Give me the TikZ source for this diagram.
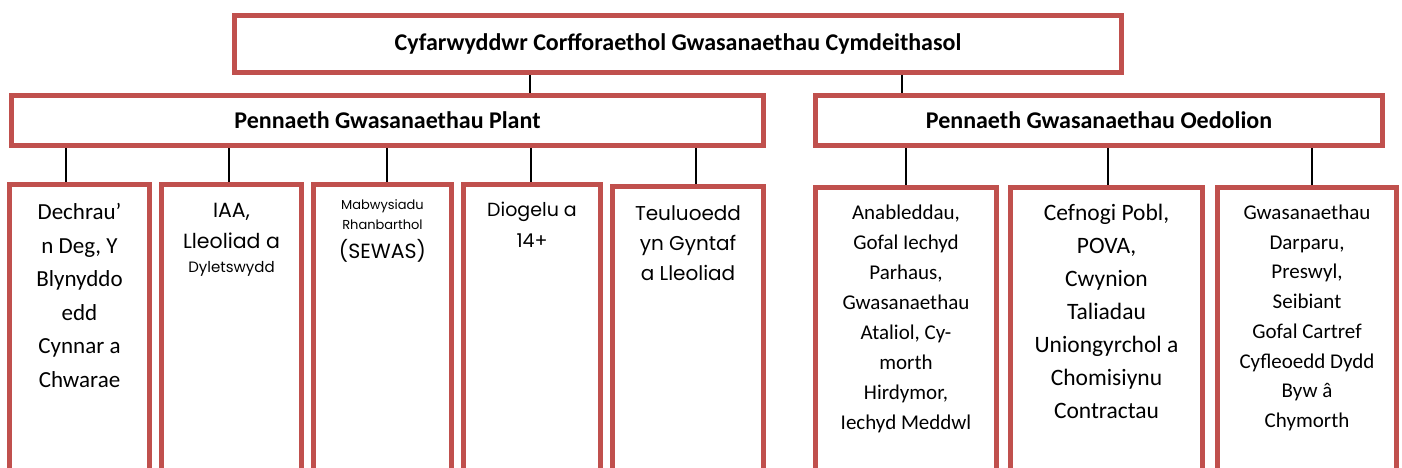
\documentclass[tikz,border=0pt]{standalone}
\usepackage{fontspec}
\setmainfont{Carlito}
\newfontfamily\gothic{Poppins}
\definecolor{boxred}{RGB}{192,80,77}
\newcommand{\fs}[2]{\fontsize{#1}{#2}\selectfont}

\begin{document}
\begin{tikzpicture}[x=1pt,y=-1pt,
	head/.style={draw=boxred, line width=5pt, fill=white, font=\bfseries\fs{24}{28}, minimum height=50pt, inner sep=0pt},
	unit/.style={draw=boxred, line width=5pt, fill=white, anchor=north, align=flush center, inner sep=0pt, text depth=400pt},
	link/.style={line width=1.5pt}]
	\useasboundingbox (0,0) rectangle (1402,468);
	\node[head, minimum width=887pt, minimum height=57pt] (v0) at (678,44) {Cyfarwyddwr Corfforaethol Gwasanaethau Cymdeithasol};
	\node[head, minimum width=752pt] (v1) at (387.5,120.5) {Pennaeth Gwasanaethau Plant};
	\node[head, minimum width=567pt] (v2) at (1099,120.5) {Pennaeth Gwasanaethau Oedolion};
	\node[unit, text width=140pt, text height=35.5pt, font=\fs{23}{33.5}] (v3) at (79.5,181.5) {Dechrau’\\n Deg, Y\\Blynyddo\\edd\\Cynnar a\\Chwarae};
	\node[unit, text width=140pt, text height=33.5pt, font=\gothic\fs{20.5}{31}] (v4) at (231.5,181.5) {IAA,\\Lleoliad a\\[-7pt]{\fs{15}{24}Dyletswydd}};
	\node[unit, text width=138pt, text height=25.5pt, font=\gothic\fs{20.5}{29}] (v5) at (382.5,181.5) {{\fs{13}{20}Mabwysiadu}\\[-9pt]{\fs{13}{20}Rhanbarthol}\\(SEWAS)};
	\node[unit, text width=137pt, text height=32.5pt, font=\gothic\fs{19}{31}] (v6) at (532,181.5) {Diogelu a\\14+};
	\node[unit, text width=151pt, text height=34.5pt, font=\gothic\fs{20}{30}] (v7) at (688,183.5) {Teuluoedd\\yn Gyntaf\\a Lleoliad};
	\node[unit, text width=181pt, text height=32.5pt, font=\fs{21}{30}] (v8) at (906,184.5) {Anableddau,\\Gofal Iechyd\\Parhaus,\\Gwasanaethau\\Ataliol, Cy-\\morth\\Hirdymor,\\Iechyd Meddwl};
	\node[unit, text width=192pt, text height=33.5pt, font=\fs{23.5}{33}] (v9) at (1106.5,184.5) {Cefnogi Pobl,\\POVA,\\Cwynion\\Taliadau\\Uniongyrchol a\\Chomisiynu\\Contractau};
	\node[unit, text width=179pt, text height=32.5pt, font=\fs{21}{29.7}] (v10) at (1307,184.5) {Gwasanaethau\\Darparu,\\Preswyl,\\Seibiant\\Gofal Cartref\\Cyfleoedd Dydd\\Byw â\\Chymorth};
	\draw[link] (v0.south -| 530,0) -- (v1.north -| 530,0);
	\draw[link] (v0.south -| 902,0) -- (v2.north -| 902,0);
	\draw[link] (v1.south -| 66,0) -- (v3.north -| 66,0);
	\draw[link] (v1.south -| 229,0) -- (v4.north -| 229,0);
	\draw[link] (v1.south -| 387,0) -- (v5.north -| 387,0);
	\draw[link] (v1.south -| 531,0) -- (v6.north -| 531,0);
	\draw[link] (v1.south -| 696,0) -- (v7.north -| 696,0);
	\draw[link] (v2.south -| 906,0) -- (v8.north -| 906,0);
	\draw[link] (v2.south -| 1108,0) -- (v9.north -| 1108,0);
	\draw[link] (v2.south -| 1312,0) -- (v10.north -| 1312,0);
\end{tikzpicture}
\end{document}
